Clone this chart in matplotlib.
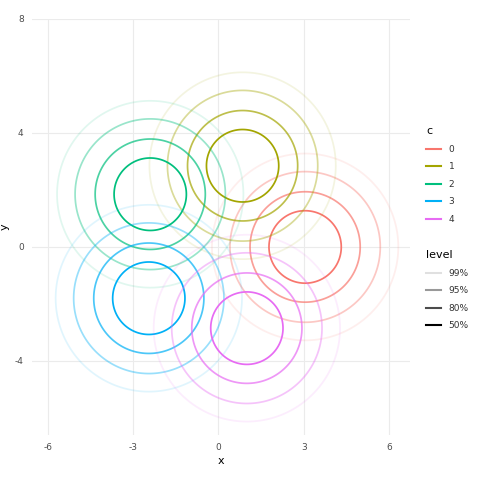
import numpy as np
import matplotlib.pyplot as plt
from matplotlib.lines import Line2D

plt.rcParams['axes.unicode_minus'] = False

# group centres and spread
groups = ['0', '1', '2', '3', '4']
cx = [3.05, 0.85, -2.4, -2.45, 1.0]
cy = [0.0, 2.85, 1.85, -1.8, -2.85]
sd = [1.08, 1.08, 1.08, 1.08, 1.08]
colors = ['#F8766D', '#A3A500', '#00BF7D', '#00B0F6', '#E76BF3']

probs = [0.99, 0.95, 0.80, 0.50]
prob_labels = ['99%', '95%', '80%', '50%']
alphas = [0.12, 0.4, 0.7, 1.0]

xticks = [-6, -3, 0, 3, 6]
yticks = [-4, 0, 4, 8]

fig = plt.figure(figsize=(4.8, 4.8), dpi=100)
ax = fig.add_axes([32 / 480, 45 / 480, 378 / 480, 416 / 480])

gx, gy = np.meshgrid(np.linspace(-7, 7.5, 400), np.linspace(-7, 8.5, 400))
for g in range(len(groups)):
    s2 = sd[g] ** 2
    dens = np.exp(-((gx - cx[g]) ** 2 + (gy - cy[g]) ** 2) / (2 * s2)) / (2 * np.pi * s2)
    for p, a in zip(probs, alphas):
        # density height that encloses probability p
        lev = (1 - p) / (2 * np.pi * s2)
        ax.contour(gx, gy, dens, levels=[lev], colors=[colors[g]],
                   alpha=a, linewidths=1.25, zorder=2)

ax.set_xlim(-6.56, 6.74)
ax.set_ylim(-6.6, 8.0)
ax.set_xticks(xticks)
ax.set_yticks(yticks)
ax.grid(True, color='#ebebeb', linewidth=0.8, zorder=0)
ax.set_axisbelow(True)
for sp in ax.spines.values():
    sp.set_visible(False)
ax.tick_params(length=0, labelsize=6.5, labelcolor='#4d4d4d', pad=6)
ax.set_xlabel('x', fontsize=8)
ax.set_ylabel('y', fontsize=8)
ax.xaxis.set_label_coords(0.5, -0.05)
ax.yaxis.set_label_coords(-0.058, 0.5)

c_handles = [Line2D([], [], color=col, linewidth=1.5) for col in colors]
leg1 = fig.legend(c_handles, groups, title='c', loc='upper left',
                  bbox_to_anchor=(418 / 480, 1 - 118 / 480), frameon=False,
                  fontsize=6.5, title_fontsize=8, handlelength=1.6,
                  labelspacing=0.95, alignment='left', handletextpad=0.9)
lv_handles = [Line2D([], [], color='black', alpha=a, linewidth=1.5) for a in alphas]
leg2 = fig.legend(lv_handles, prob_labels, title='level', loc='upper left',
                  bbox_to_anchor=(418 / 480, 1 - 242 / 480), frameon=False,
                  fontsize=6.5, title_fontsize=8, handlelength=1.6,
                  labelspacing=0.95, alignment='left', handletextpad=0.9)
for leg in (leg1, leg2):
    for t in leg.get_texts():
        t.set_color('#333333')

fig.savefig('out.png', dpi=100)
